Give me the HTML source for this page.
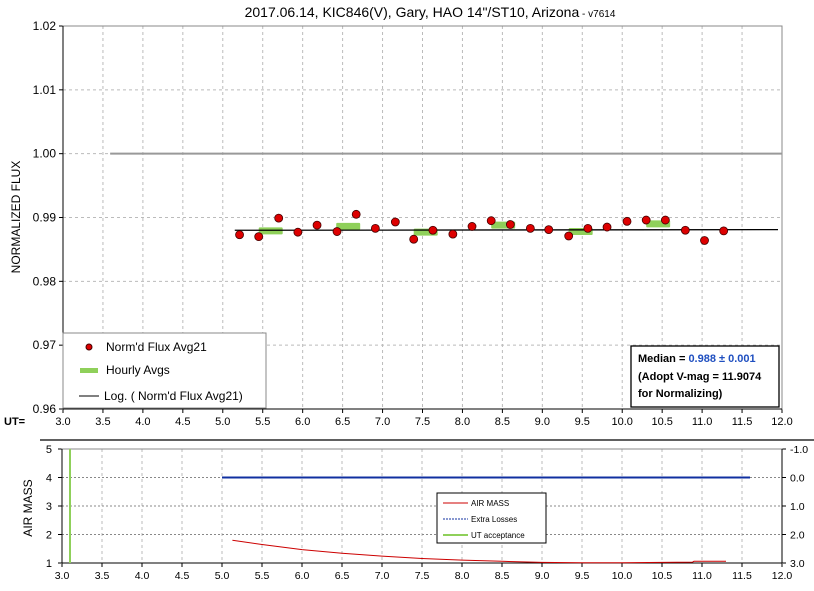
<!DOCTYPE html>
<html><head><meta charset="utf-8"><style>
body{margin:0;background:#fff;width:814px;height:586px;overflow:hidden}
svg{font-family:"Liberation Sans",sans-serif}
</style></head><body>
<svg id="c" width="814" height="586" xmlns="http://www.w3.org/2000/svg"></svg>
<script>
const fluxUT=[5.21,5.45,5.70,5.94,6.18,6.43,6.67,6.91,7.16,7.39,7.63,7.88,8.12,8.36,8.60,8.85,9.08,9.33,9.57,9.81,10.06,10.30,10.54,10.79,11.03,11.27];
const fluxVal=[0.9873,0.9870,0.9899,0.9877,0.9888,0.9878,0.9905,0.9883,0.9893,0.9866,0.9880,0.9874,0.9886,0.9895,0.9889,0.9883,0.9881,0.9871,0.9883,0.9885,0.9894,0.9896,0.9896,0.9880,0.9864,0.9879];
const hourUT=[5.6,6.57,7.54,8.51,9.48,10.45];
const hourVal=[0.9879,0.9886,0.9877,0.9888,0.9878,0.9890];
const trendUT=[5.15,11.95];
const trendVal=[0.9880,0.9881];
const xTicks=["3.0","3.5","4.0","4.5","5.0","5.5","6.0","6.5","7.0","7.5","8.0","8.5","9.0","9.5","10.0","10.5","11.0","11.5","12.0"];
const yTicks=["0.96","0.97","0.98","0.99","1.00","1.01","1.02"];
const amUT=[5.13,5.5,6.0,6.5,7.0,7.5,8.0,8.5,9.0,9.5,10.0,10.5,10.88,10.9,11.3];
const amVal=[1.8,1.65,1.47,1.34,1.24,1.16,1.1,1.06,1.02,1.01,1.01,1.02,1.03,1.06,1.06];
const amTicks=["1","2","3","4","5"];
const elTicks=["3.0","2.0","1.0","0.0","-1.0"];
const lossUT=[5.0,11.6];

const S=document.getElementById('c');const NS="http://www.w3.org/2000/svg";
function mk(t,a,p){const e=document.createElementNS(NS,t);for(const k in a)e.setAttribute(k,a[k]);(p||S).appendChild(e);return e;}
function tx(x,y,s,a){const e=mk('text',Object.assign({x:x,y:y,'font-size':11,fill:'#000'},a||{}));e.textContent=s;return e;}
const X=u=>63+(u-3)/9*719;
const Y=v=>409-(v-0.96)/0.06*383;
const X2=u=>62+(u-3)/9*720;
const Y2=v=>563-(v-1)/4*114;

let e=mk('rect',{x:63,y:26,width:719,height:383,fill:'#fff',stroke:'none'});

xTicks.forEach((t,i)=>{const u=+t;const x=X(u);
 if(i>0&&i<xTicks.length-1){e=mk('line',{x1:x,x2:x,y1:26,y2:409,stroke:'#bbb','stroke-dasharray':'3,3'});}
 mk('line',{x1:x,x2:x,y1:409,y2:413,stroke:'#000'});
 e=tx(x,425,t,{'text-anchor':'middle'});});
yTicks.forEach(t=>{const y=Y(+t);
 e=mk('line',{x1:63,x2:782,y1:y,y2:y,stroke:'#bbb','stroke-dasharray':'3,3'});
 mk('line',{x1:59,x2:63,y1:y,y2:y,stroke:'#000'});
 e=tx(56,y+4,t,{'text-anchor':'end','font-size':12});});
mk('rect',{x:63,y:26,width:719,height:383,fill:'none',stroke:'#888'});
mk('line',{x1:63,x2:63,y1:26,y2:409,stroke:'#000'});mk('line',{x1:63,x2:782,y1:409,y2:409,stroke:'#000'});
e=tx(4,425,'UT=',{'font-weight':'bold','font-size':11});
e=mk('line',{x1:X(3.59),x2:782,y1:Y(1.0),y2:Y(1.0),stroke:'#999','stroke-width':2});
e=tx(20,217,'NORMALIZED FLUX',{'text-anchor':'middle','font-size':12,transform:'rotate(-90 20 217)'});
e=tx(430,17,'2017.06.14, KIC846(V), Gary, HAO 14"/ST10, Arizona',{'text-anchor':'middle','font-size':14});
const ts=mk('tspan',{'font-size':10},e);ts.textContent=' - v7614';

hourUT.forEach((u,i)=>{e=mk('rect',{x:X(u-0.15),y:Y(hourVal[i])-3.5,width:X(u+0.15)-X(u-0.15),height:7,fill:'#8fd05a',rx:1});});
e=mk('line',{x1:X(trendUT[0]),x2:X(trendUT[1]),y1:Y(trendVal[0]),y2:Y(trendVal[1]),stroke:'#000','stroke-width':1.3});
fluxUT.forEach((u,i)=>{e=mk('circle',{cx:X(u),cy:Y(fluxVal[i]),r:4,fill:'#d00',stroke:'#400','stroke-width':0.8});});
const lg=mk('g',{});
mk('rect',{x:63,y:333,width:203,height:75,fill:'#fff',stroke:'#888'},lg);
mk('circle',{cx:89,cy:347,r:3,fill:'#d00',stroke:'#400'},lg);tx(106,351,"Norm'd Flux Avg21",{'font-size':12},lg);
mk('rect',{x:80,y:368,width:18,height:5,fill:'#8fd05a'},lg);tx(106,374,'Hourly Avgs',{'font-size':12},lg);
mk('line',{x1:79,x2:99,y1:396,y2:396,stroke:'#000'},lg);tx(104,400,"Log. ( Norm'd Flux Avg21)",{'font-size':12},lg);
const mb=mk('g',{});
mk('rect',{x:631,y:346,width:148,height:61,fill:'#fff',stroke:'#000','stroke-width':1.3},mb);
let t1=tx(638,362,'Median = ',{'font-size':11,'font-weight':'bold'},mb);const t2=mk('tspan',{fill:'#1f4fc0'},t1);t2.textContent='0.988 ± 0.001';
tx(638,380,'(Adopt V-mag = 11.9074',{'font-size':11,'font-weight':'bold'},mb);
tx(638,397,' for Normalizing)',{'font-size':11,'font-weight':'bold'},mb);
mk('line',{x1:40,x2:814,y1:440,y2:440,stroke:'#000','stroke-width':1.2});
xTicks.forEach((t,i)=>{const x=X2(+t);
 if(i>0&&i<xTicks.length-1){e=mk('line',{x1:x,x2:x,y1:449,y2:563,stroke:'#bbb','stroke-dasharray':'3,3'});}
 mk('line',{x1:x,x2:x,y1:563,y2:567,stroke:'#000'});
 e=tx(x,579,t,{'text-anchor':'middle','font-size':10.5});});
amTicks.forEach((t,i)=>{const y=Y2(+t);
 if(i>0&&i<4){mk('line',{x1:62,x2:782,y1:y,y2:y,stroke:'#888','stroke-dasharray':'2,2'});}
 mk('line',{x1:58,x2:62,y1:y,y2:y,stroke:'#000'});mk('line',{x1:782,x2:786,y1:y,y2:y,stroke:'#000'});
 e=tx(52,y+4,t,{'text-anchor':'end','font-size':11});
 e=tx(790,y+4,elTicks[i],{'font-size':10.5});});
mk('rect',{x:62,y:449,width:720,height:114,fill:'none',stroke:'#888'});
mk('line',{x1:62,x2:62,y1:449,y2:563,stroke:'#000'});mk('line',{x1:782,x2:782,y1:449,y2:563,stroke:'#000'});mk('line',{x1:62,x2:782,y1:563,y2:563,stroke:'#000'});
e=tx(32,508,'AIR MASS',{'text-anchor':'middle','font-size':12,transform:'rotate(-90 32 508)'});
e=mk('line',{x1:X2(3.1),x2:X2(3.1),y1:449,y2:563,stroke:'#8fd05a','stroke-width':2});
e=mk('line',{x1:X2(lossUT[0]),x2:X2(lossUT[1]),y1:Y2(4),y2:Y2(4),stroke:'#1030a0','stroke-width':2});
e=mk('polyline',{points:amUT.map((u,i)=>X2(u)+','+Y2(amVal[i])).join(' '),fill:'none',stroke:'#c00','stroke-width':1});
const l2=mk('g',{});
mk('rect',{x:437,y:493,width:109,height:50,fill:'#fff',stroke:'#000'},l2);
mk('line',{x1:443,x2:468,y1:503,y2:503,stroke:'#c00'},l2);tx(471,506,'AIR MASS',{'font-size':8},l2);
mk('line',{x1:443,x2:468,y1:519,y2:519,stroke:'#1030a0','stroke-dasharray':'2,1'},l2);tx(471,522,'Extra Losses',{'font-size':8},l2);
mk('line',{x1:443,x2:468,y1:535,y2:535,stroke:'#8fd05a','stroke-width':2},l2);tx(471,538,'UT acceptance',{'font-size':8},l2);
</script>
</body></html>
